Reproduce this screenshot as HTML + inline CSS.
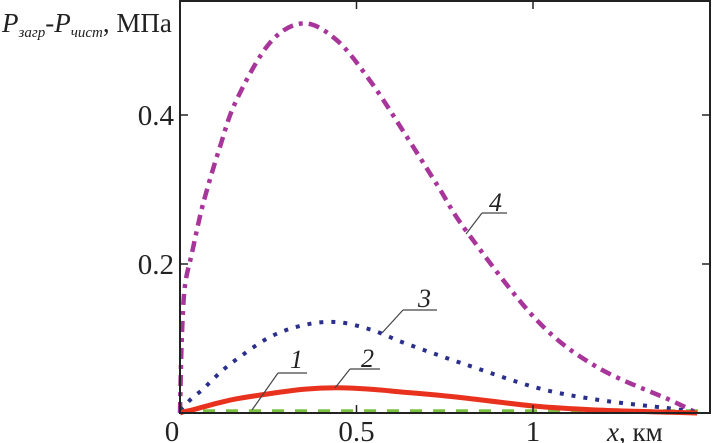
<!DOCTYPE html>
<html><head><meta charset="utf-8"><style>
html,body{margin:0;padding:0;background:#fff;}
svg{display:block;font-family:"Liberation Serif",serif;}
</style></head><body>
<svg id="c" width="712" height="443"></svg>
<script>
const xs  = [0,0.005,0.014,0.034,0.065,0.113,0.16,0.255,0.35,0.445,0.54,0.63,0.73,0.81,1.01,1.18,1.39,1.465];
const s4  = [0,0.1,0.17,0.215,0.28,0.357,0.42,0.497,0.523,0.5,0.445,0.38,0.305,0.245,0.125,0.062,0.017,0];
const s3  = [0.004,0.006,0.01,0.02,0.032,0.054,0.072,0.102,0.118,0.122,0.112,0.095,0.078,0.065,0.034,0.018,0.006,0.001];
const s2  = [0,0.001,0.002,0.004,0.008,0.014,0.019,0.026,0.032,0.034,0.032,0.028,0.024,0.02,0.009,0.004,0.001,0];
const s1  = [0,0,0,0,0,0,0,0,0,0,0,0,0,0,0,0,0,0];
const xTicks=[0,0.5,1]; const xTickLabels=["0","0.5","1"];
const yTicks=[0.2,0.4]; const yTickLabels=["0.2","0.4"];
const X0=180,X1=710,Y0=413,Y1=1;
const sx=v=>X0+v*353, sy=v=>Y0-v*745;
const svg=document.getElementById('c'),NS='http://www.w3.org/2000/svg';
function mk(t,a,p){const e=document.createElementNS(NS,t);for(const k in a)e.setAttribute(k,a[k]);(p||svg).appendChild(e);return e;}
function line(ys,name,attrs,xEnd){
 const P=xs.map((x,i)=>[sx(x),sy(ys[i])]);
 if(xEnd!==undefined)P.push([sx(xEnd),P[P.length-1][1]]);
 let d='M'+P[0][0].toFixed(1)+','+P[0][1].toFixed(1);
 for(let i=0;i<P.length-1;i++){
  const p0=P[Math.max(0,i-1)],p1=P[i],p2=P[i+1],p3=P[Math.min(P.length-1,i+2)];
  const c1=[p1[0]+(p2[0]-p0[0])/6,p1[1]+(p2[1]-p0[1])/6];
  const c2=[p2[0]-(p3[0]-p1[0])/6,p2[1]-(p3[1]-p1[1])/6];
  d+='C'+c1.map(v=>v.toFixed(1)).join(',')+' '+c2.map(v=>v.toFixed(1)).join(',')+' '+p2.map(v=>v.toFixed(1)).join(',');
 }
 const p=mk('path',Object.assign({d:d,fill:'none'},attrs));
 
 
}
line(s1.map(v=>v+0.002),'series-1',{stroke:'#7cc242','stroke-width':4.5,'stroke-dasharray':'12 11'},1.5);
line(s4,'series-4',{stroke:'#a8359a','stroke-width':4.5,'stroke-dasharray':'11 6 4 6'});
line(s3,'series-3',{stroke:'#2a2f8c','stroke-width':4,'stroke-dasharray':'4 8'});
line(s2,'series-2',{stroke:'#e8321e','stroke-width':5});
const fr=mk('rect',{x:X0,y:Y1,width:X1-X0,height:Y0-Y1,fill:'none',stroke:'#222','stroke-width':2});


xTicks.forEach((t,i)=>{
 mk('line',{x1:sx(t),x2:sx(t),y1:Y0,y2:Y0-8,stroke:'#222','stroke-width':1.5});
 mk('line',{x1:sx(t),x2:sx(t),y1:Y1,y2:Y1+8,stroke:'#222','stroke-width':1.5});
 const tx=mk('text',{x:sx(t)+(t===0?-8:0),y:441,'font-size':29,'text-anchor':'middle',fill:'#222'});
 tx.textContent=xTickLabels[i];
 
 
});
yTicks.forEach((t,i)=>{
 mk('line',{x1:X0,x2:X0+8,y1:sy(t),y2:sy(t),stroke:'#222','stroke-width':1.5});
 mk('line',{x1:X1,x2:X1-8,y1:sy(t),y2:sy(t),stroke:'#222','stroke-width':1.5});
 const tx=mk('text',{x:174,y:sy(t)+10,'font-size':29,'text-anchor':'end',fill:'#222'});
 tx.textContent=yTickLabels[i];
 
 
});
</script>
<svg width="712" height="443" style="position:absolute;left:0;top:0">
<text x="2" y="32" font-size="27" font-style="italic" fill="#222" font-family="Liberation Serif,serif">P<tspan font-size="15" dy="5">загр</tspan><tspan dy="-5">-P</tspan><tspan font-size="15" dy="5">чист</tspan><tspan dy="-5" font-style="normal">, МПа</tspan></text>
<text x="607" y="441" font-size="27" fill="#222" font-family="Liberation Serif,serif"><tspan font-style="italic">x</tspan>, км</text>
<g stroke="#444" stroke-width="1.2" fill="none">
<path d="M278,373 L307,373 M278,373 L252,410"/>
<path d="M350,369 L380,369 M350,369 L335,388"/>
<path d="M403,310 L437,310 M403,310 L382,333"/>
<path d="M482,213 L507,213 M482,213 L466,234"/>
</g>
<g font-size="26" font-style="italic" fill="#222" font-family="Liberation Serif,serif">
<text x="290" y="368">1</text>
<text x="361" y="367">2</text>
<text x="418" y="307">3</text>
<text x="489" y="211">4</text>
</g>
</svg>
</body></html>
